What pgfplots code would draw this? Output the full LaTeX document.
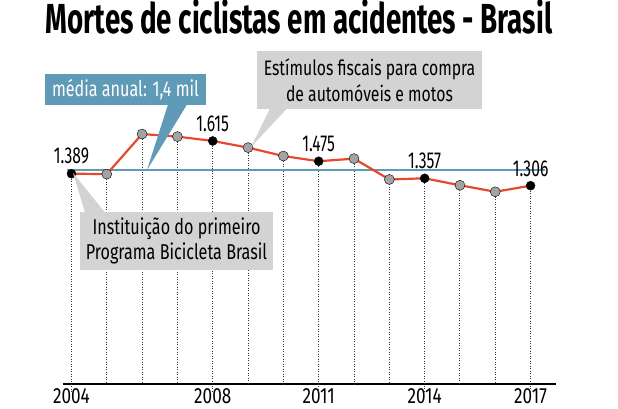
\documentclass[border=0pt]{standalone}
\usepackage{pgfplots}
\pgfplotsset{compat=1.18}
\usepackage{pgfplotstable}
\usepackage{fontspec}
\setmainfont{Fira Sans}[FakeStretch=0.75]
\newfontfamily\titlefont{Fira Sans}[FakeStretch=0.66]
\newfontfamily\numfont{Fira Sans}[FakeStretch=0.68]
\newfontfamily\yearfont{Fira Sans}[FakeStretch=0.78]
\definecolor{lred}{HTML}{E64A2E}
\definecolor{avgblue}{HTML}{5F9BB6}
\definecolor{markgray}{HTML}{A3A3A3}
\definecolor{boxgray}{HTML}{D3D3D3}
\pgfplotstableread{
year deaths hl lab
2004 1389 1 1.389
2005 1386 0 x
2006 1663 0 x
2007 1645 0 x
2008 1615 1 1.615
2009 1569 0 x
2010 1511 0 x
2011 1475 1 1.475
2012 1493 0 x
2013 1349 0 x
2014 1357 1 1.357
2015 1309 0 x
2016 1264 0 x
2017 1306 1 1.306
}\data
\begin{document}
\begin{tikzpicture}
\useasboundingbox (0,0) rectangle (618pt,409pt);
\begin{axis}[at={(63pt,25pt)}, anchor=south west, scale only axis,
  width=493pt, height=284pt,
  xmin=2003.76, xmax=2017.72, ymin=-64, ymax=1898,
  axis x line*=bottom, axis y line=none,
  axis line style={line width=1.2pt, black},
  xtick={2004,2008,2011,2014,2017},
  xticklabels={2004,2008,2011,2014,2017},
  ytick=\empty,
  major tick length=0pt,
  xticklabel style={font=\yearfont\fontsize{22}{22}\selectfont, anchor=base, inner sep=0pt, yshift=-19.5pt},
  clip=false]
\addplot[draw=none, mark=none, forget plot,
  error bars/.cd, y dir=minus, y explicit, error mark=none,
  error bar style={draw=black!80, line width=0.9pt, dash pattern=on 0.9pt off 1.6pt}]
  table[x=year, y=deaths, y error minus expr={\thisrow{deaths}+64+62*\thisrow{hl}}] {\data};
\addplot[avgblue, line width=1.5pt, mark=none] coordinates {(2003.87,1415) (2017.41,1415)};
\addplot[lred, line width=2.2pt, mark=none] table[x=year, y=deaths] {\data};
\addplot[only marks, mark=*, mark size=5pt, mark options={fill=markgray, draw=none},
  restrict expr to domain={\thisrow{hl}}{0:0}] table[x=year, y=deaths] {\data};
\addplot[only marks, mark=*, mark size=4.5pt, mark options={fill=black, draw=none},
  restrict expr to domain={\thisrow{hl}}{1:1},
  point meta=explicit symbolic, nodes near coords,
  every node near coord/.style={anchor=south, inner sep=0pt, yshift=9pt, text=black,
    font=\numfont\fontsize{23}{23}\selectfont}]
  table[x=year, y=deaths, meta=lab] {\data};
\end{axis}
% title
\node[anchor=base, font=\titlefont\bfseries\fontsize{42}{42}\selectfont] at (299pt,375pt) {Mortes de ciclistas em acidentes - Brasil};
% blue callout
\fill[avgblue] (45pt,304pt) rectangle (206pt,335pt);
\fill[avgblue] (168pt,304.5pt) -- (187pt,304.5pt) -- (147pt,239pt) -- cycle;
\node[text=white, font=\fontsize{21.5}{21.5}\selectfont] at (125.5pt,319.5pt) {média anual: 1,4 mil};
% gray callout top
\fill[boxgray] (257pt,300pt) rectangle (482pt,358pt);
\fill[boxgray] (270pt,300.5pt) -- (287pt,300.5pt) -- (251pt,262pt) -- cycle;
\node[align=center, font=\fontsize{21}{26}\selectfont] at (369.5pt,329pt) {Estímulos fiscais para compra\\de automóveis e motos};
% gray callout bottom
\fill[boxgray] (80pt,139pt) rectangle (273pt,197pt);
\fill[boxgray] (85pt,196.5pt) -- (105pt,196.5pt) -- (73pt,236pt) -- cycle;
\node[align=center, font=\fontsize{21.5}{25}\selectfont] at (176.5pt,168pt) {Instituição do primeiro\\Programa Bicicleta Brasil};
\end{tikzpicture}
\end{document}
